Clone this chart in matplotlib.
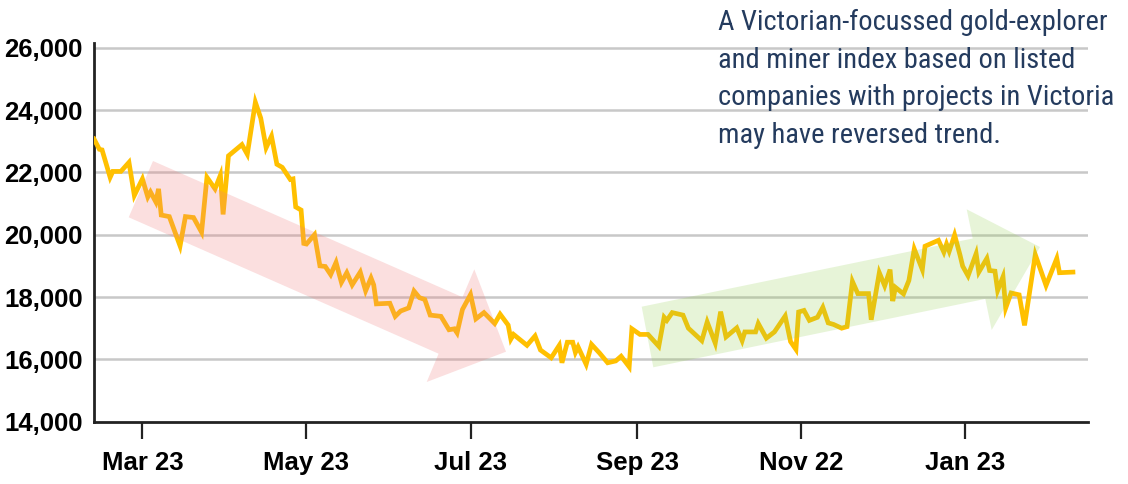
import matplotlib
matplotlib.use("Agg")
import matplotlib.pyplot as plt
import matplotlib.font_manager as fm
from matplotlib.patches import Polygon
import pandas as pd

# ---- data ----
start_date = "2023-03-01"
day_offsets = [-18, -16, -15, -12, -11, -8, -5, -3, 0, 2, 3, 5, 6, 7, 10, 14, 16, 19, 22, 24,
               27, 29, 30, 32, 37, 39, 42, 44, 46, 48, 50, 52, 54, 55, 56, 57, 59, 60, 61, 64,
               66, 68, 70, 72, 74, 76, 78, 81, 83, 85, 86, 87, 92, 94, 96, 99, 101, 103, 105, 107,
               111, 114, 116, 117, 119, 122, 124, 127, 131, 133, 136, 137, 138, 143, 146, 148, 152, 155, 156, 158,
               160, 161, 162, 165, 167, 170, 173, 176, 178, 181, 182, 185, 188, 192, 194, 195, 197, 201, 203, 208,
               210, 213, 215, 217, 221, 223, 224, 228, 229, 232, 235, 239, 241, 243, 244, 246, 248, 251, 253, 255,
               257, 260, 262, 264, 266, 270, 271, 274, 276, 278, 279, 280, 283, 285, 287, 290, 291, 296, 298, 299,
               300, 302, 304, 305, 307, 310, 311, 314, 315, 317, 318, 320, 321, 323, 326, 328, 332, 336, 340, 341,
               346]
index_values = [23070, 22740, 22720, 21840, 22030, 22030, 22320, 21260, 21790, 21210,
                21370, 21050, 21470, 20630, 20580, 19640, 20580, 20550, 20080, 21840,
                21470, 21910, 20650, 22530, 22890, 22580, 24250, 23740, 22790, 23160,
                22260, 22160, 21900, 21770, 21790, 20890, 20790, 19720, 19700, 20000,
                19000, 18980, 18720, 19110, 18470, 18780, 18390, 18800, 18200, 18610,
                18390, 17780, 17800, 17380, 17550, 17650, 18190, 17980, 17920, 17420,
                17380, 16950, 16980, 16850, 17600, 18080, 17300, 17500, 17150, 17450,
                17100, 16650, 16800, 16450, 16750, 16300, 16050, 16450, 15890, 16550,
                16550, 16220, 16400, 15840, 16480, 16200, 15890, 15950, 16100, 15760,
                16980, 16800, 16800, 16420, 17350, 17250, 17500, 17420, 17000, 16600,
                17200, 16520, 17530, 16720, 17010, 16600, 16880, 16880, 17150, 16680,
                16880, 17390, 16570, 16320, 17520, 17570, 17250, 17350, 17670, 17170,
                17120, 17000, 17050, 18500, 18110, 18110, 17270, 18780, 18360, 18880,
                17870, 18310, 18100, 18530, 19540, 18880, 19630, 19820, 19440, 19700,
                19470, 19990, 19350, 18990, 18680, 19390, 18800, 19240, 18850, 18830,
                18210, 18650, 17650, 18130, 18070, 17090, 19360, 18370, 19240, 18780,
                18800]
tick_dates = ["2023-03-01", "2023-05-01", "2023-07-01", "2023-09-01", "2023-11-01", "2024-01-01"]
tick_labels = ["Mar 23", "May 23", "Jul 23", "Sep 23", "Nov 22", "Jan 23"]
y_ticks = [14000, 16000, 18000, 20000, 22000, 24000, 26000]
note = ("A Victorian-focussed gold-explorer\n"
        "and miner index based on listed\n"
        "companies with projects in Victoria\n"
        "may have reversed trend.")

assert len(day_offsets) == len(index_values)
dates = pd.Timestamp(start_date) + pd.to_timedelta(day_offsets, unit="D")

# ---- fonts ----
installed = {f.name for f in fm.fontManager.ttflist}
main_font = "Liberation Sans" if "Liberation Sans" in installed else "DejaVu Sans"
narrow_font = None
for cand in ["Liberation Sans Narrow", "Arial Narrow", "Roboto Condensed", "DejaVu Sans Condensed"]:
    if cand in installed:
        narrow_font = cand
        break
plt.rcParams["font.family"] = [main_font, "DejaVu Sans"]

W, H = 1128, 484
fig = plt.figure(figsize=(W / 100, H / 100), dpi=100)
ax = fig.add_axes([94 / W, 1 - 421.7 / H, (1088 - 94) / W, (421.7 - 43) / H])

ax.plot(dates, index_values, color="#FFC000", lw=3.4, solid_joinstyle="miter", zorder=3)

ax.set_ylim(14000, 26150)
ax.set_xlim(pd.Timestamp(start_date) + pd.Timedelta(days=-18), pd.Timestamp(start_date) + pd.Timedelta(days=351.6))

ax.set_yticks(y_ticks)
ax.set_yticklabels([f"{v:,}" for v in y_ticks], fontweight="bold", fontsize=18.5)
ax.set_xticks(pd.to_datetime(tick_dates))
ax.set_xticklabels(tick_labels, fontweight="bold", fontsize=18.5)

ax.tick_params(axis="y", length=0, pad=8)
ax.tick_params(axis="x", length=12, width=1.6, pad=9, color="#222222", direction="out")

for v in y_ticks[1:]:
    ax.axhline(v, color="#C8C8C8", lw=1.8, zorder=1)

for s in ["top", "right"]:
    ax.spines[s].set_visible(False)
for s in ["left", "bottom"]:
    ax.spines[s].set_color("#222222")
    ax.spines[s].set_linewidth(2)

def px(points):
    return [(x / W, 1 - y / H) for x, y in points]

red_arrow = [(153, 161), (462.5, 297.2), (474.3, 269.3), (506, 351.7),
             (426.7, 382), (438.6, 353.7), (128.7, 217.3)]
green_arrow = [(641.7, 306.7), (972.7, 238.5), (966.7, 209.3), (1040, 247),
               (991.7, 330), (985.3, 298.9), (653.3, 367.3)]

ax.add_patch(Polygon(px(red_arrow), closed=True, transform=fig.transFigure,
                     facecolor="#F08080", alpha=0.25, edgecolor="none", zorder=4, clip_on=False))
ax.add_patch(Polygon(px(green_arrow), closed=True, transform=fig.transFigure,
                     facecolor="#92D050", alpha=0.22, edgecolor="none", zorder=4, clip_on=False))

if narrow_font is not None:
    note_font, note_size = [narrow_font, "DejaVu Sans"], 20.5
else:
    note_font, note_size = [main_font, "DejaVu Sans"], 19
note_txt = fig.text(718 / W, 1 - 9 / H, note, ha="left", va="top", fontsize=note_size,
                    color="#243B5E", family=note_font, linespacing=1.5)

# fit the note width to the reference (~402 px) without changing its content
fig.canvas.draw()
bb = note_txt.get_window_extent()
if bb.width > 408:
    note_txt.set_fontsize(note_size * 402 / bb.width)

fig.savefig("out.png", dpi=100)
